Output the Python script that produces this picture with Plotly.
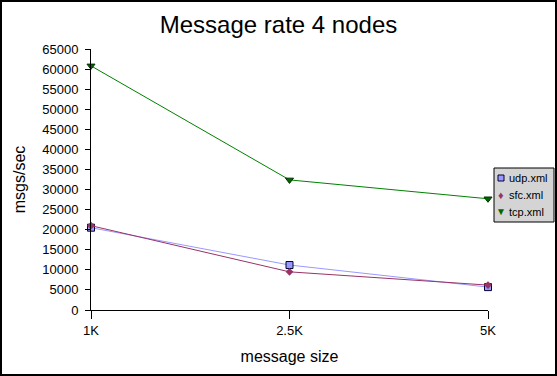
import plotly.graph_objects as go

categories = ["1K", "2.5K", "5K"]
udp = [20500, 11200, 5700]
sfc = [21000, 9500, 6200]
tcp = [60800, 32400, 27700]
series_names = ["udp.xml", "sfc.xml", "tcp.xml"]

W, H = 557, 376
ML, MR, MT, MB = 91, 69, 49, 66
PW, PH = W - ML - MR, H - MT - MB


def px(x):
    return (x - ML) / PW


def py(y):
    return (H - MB - y) / PH


xs = list(range(len(categories)))
fig = go.Figure()

colors = ["#9999ff", "#993366", "#008000"]
markers = [
    dict(symbol="square", size=7, color="#9999ff", line=dict(color="#000033", width=1)),
    dict(symbol="diamond", size=6, color="#993366", line=dict(color="#993366", width=0)),
    dict(symbol="triangle-down", size=7, color="#006600", line=dict(color="#003300", width=1)),
]
for name, vals, lc, mk in zip(series_names, [udp, sfc, tcp], colors, markers):
    fig.add_trace(go.Scatter(x=xs, y=vals, mode="lines+markers", name=name,
                             line=dict(color=lc, width=1), marker=mk, showlegend=False,
                             cliponaxis=False))

# manual legend (compact, like the reference)
shapes = [dict(type="rect", xref="paper", yref="paper",
               x0=px(494), x1=px(554), y0=py(222), y1=py(168),
               line=dict(color="black", width=1), fillcolor="#d4d4d4")]
annotations = []
glyphs = ["", "\u2666", "\u25BC"]
for i, name in enumerate(series_names):
    yc = 178 + i * 17
    if i == 0:
        shapes.append(dict(type="rect", xref="paper", yref="paper",
                           x0=px(498), x1=px(504), y0=py(yc + 3), y1=py(yc - 3),
                           line=dict(color="#000033", width=1), fillcolor="#9999ff"))
    else:
        annotations.append(dict(x=px(501), y=py(yc), xref="paper", yref="paper",
                                text=glyphs[i], showarrow=False, xanchor="center", yanchor="middle",
                                font=dict(size=11 if i == 1 else 10, color=markers[i]["color"])))
    annotations.append(dict(x=px(507), y=py(yc), xref="paper", yref="paper", text=name,
                            showarrow=False, xanchor="left", yanchor="middle",
                            font=dict(size=11, color="black")))

shapes.append(dict(type="rect", xref="paper", yref="paper",
                   x0=px(1), x1=px(W - 1), y0=py(H - 1), y1=py(1),
                   line=dict(color="black", width=2), fillcolor="rgba(0,0,0,0)"))

fig.update_layout(
    width=W, height=H,
    margin=dict(l=ML, r=MR, t=MT, b=MB, autoexpand=False),
    paper_bgcolor="white", plot_bgcolor="white",
    font=dict(family="Liberation Sans, Arial", color="black", size=13),
    showlegend=False,
    title=dict(text="Message rate 4 nodes", x=0.5, xanchor="center", y=1 - 25 / H, yanchor="middle",
               font=dict(size=24, color="black")),
    xaxis=dict(range=[0, 2], tickmode="array", tickvals=xs, ticktext=categories,
               showgrid=False, zeroline=False, showline=True, linecolor="black", linewidth=1,
               ticks="outside", ticklen=8, tickcolor="black",
               title=dict(text="message size", font=dict(size=16), standoff=14)),
    yaxis=dict(range=[0, 65000], tickmode="linear", tick0=0, dtick=5000, tickformat="d",
               showgrid=False, zeroline=False, showline=True, linecolor="black", linewidth=1,
               ticks="outside", ticklen=5, tickcolor="black", ticklabelstandoff=4,
               title=dict(text="msgs/sec", font=dict(size=16), standoff=12)),
    shapes=shapes,
    annotations=annotations,
)

fig.write_html("out.html", post_script="document.body.style.margin='0';",
               config={"displayModeBar": False})
